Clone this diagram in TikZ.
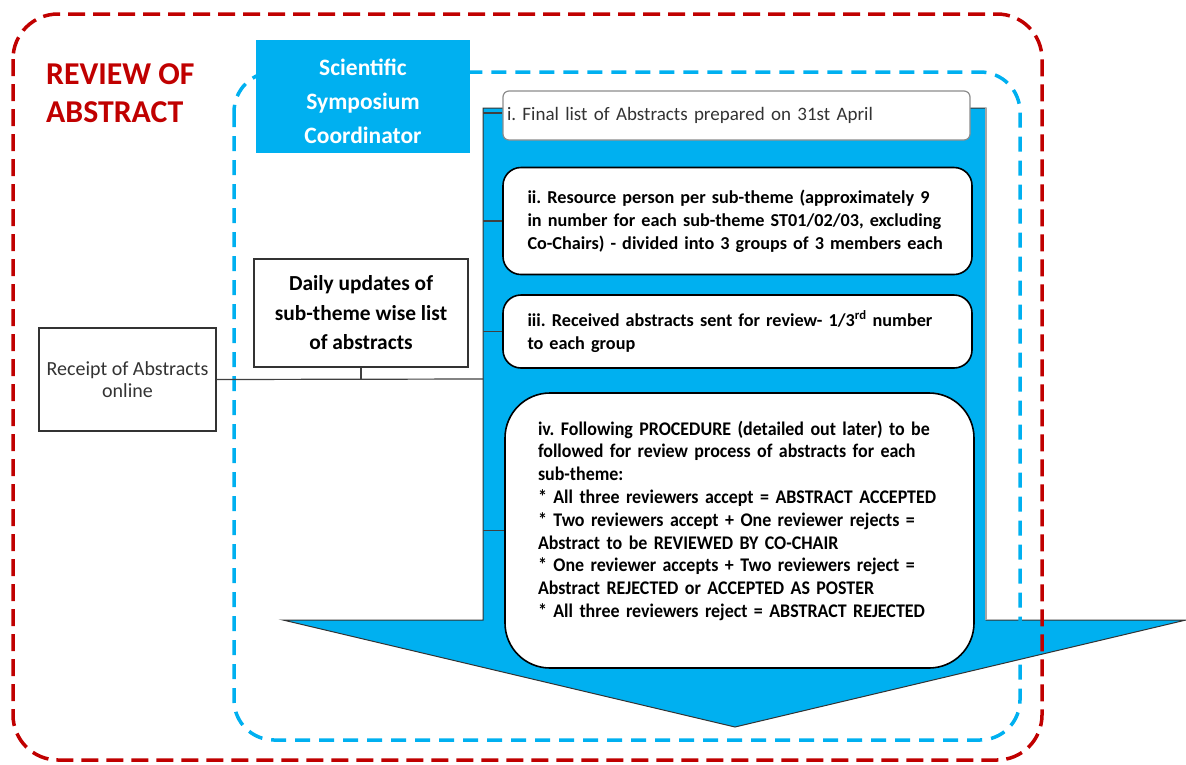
\documentclass[tikz,border=0pt]{standalone}
\usepackage{fontspec}
\setmainfont{Carlito}
\newfontfamily\procfont[FakeStretch=0.93]{Carlito}
\usepackage{tikz}
\usetikzlibrary{positioning}

\definecolor{symblue}{HTML}{00B0F0}
\definecolor{revred}{HTML}{C00000}

\frenchspacing
\hyphenpenalty=10000

\begin{document}
\begin{tikzpicture}[x=1pt, y=-1pt,
  listbox/.style={draw=black, line width=1.6pt, fill=white, align=left,
    inner ysep=0pt, font=\bfseries\fontsize{18.2}{23}\selectfont},
  plainbox/.style={draw=black!80, line width=1.2pt, fill=white, align=center},
  link/.style={draw=black!75, line width=1.2pt}]

  \newcommand\XA{483}
  \newcommand\XB{986}
  \newcommand\YT{108}
  \newcommand\YH{620}

  \useasboundingbox (0,0) rectangle (1186,764);

  % big arrow behind the list
  \draw[fill=symblue, draw=black!80, line width=1pt] (\XA,\YT) -- (\XB,\YT)
  -- (\XB,\YH) -- (1186,\YH) -- (735,727) -- (283,\YH) -- (\XA,\YH) -- cycle;
  \draw[black!35, line width=1.2pt] (\XB,\YT) -- (\XB,\YH);
  \coordinate (shaft) at (\XA,\YT);
  \coordinate (inlet) at (\XA,379);

  % outer frames
  \draw[revred, line width=3.5pt, dash pattern=on 17pt off 8pt, rounded corners=45pt]
  (13,14) rectangle (1042,760);
  \draw[symblue, line width=3.5pt, dash pattern=on 15pt off 9pt, rounded corners=40pt]
  (234,72) rectangle (1020,740);

  \fill[symblue] (256,40) rectangle (470,153);
  \node[text=white, font=\bfseries\fontsize{23.5}{34}\selectfont, align=center]
  (coord) at (363,101.5) {Scientific\\Symposium\\Coordinator};

  \node[anchor=north west, inner sep=0pt, text=revred, align=left,
  font=\bfseries\fontsize{31.8}{38}\selectfont] (title) at (46,63) {REVIEW OF\\ABSTRACT};

  \node[plainbox, minimum width=177pt, minimum height=103pt, text=black!80,
  font=\fontsize{20}{22}\selectfont] (receipt) at (127.5,379.5)
  {Receipt of Abstracts\\online};
  \node[plainbox, minimum width=214pt, minimum height=108pt,
  font=\bfseries\fontsize{21.4}{29.5}\selectfont] (daily) at (361,313)
  {Daily updates of\\sub-theme wise list\\of abstracts};

  \node[listbox, draw=black!45, line width=1.2pt, rounded corners=6pt,
  minimum height=49pt, text width=459pt, inner xsep=4pt, text=black!80,
  font=\fontsize{19}{22}\selectfont] (final) at (736.5,115.5)
  {i. Final list of Abstracts prepared on 31st April};
  \node[listbox, rounded corners=18pt, minimum height=107pt, text width=420pt,
  inner xsep=24.5pt] (persons) at (737.5,221)
  {ii. Resource person per sub-theme (approximately 9\\
    in number for each sub-theme ST01/02/03, excluding\\
    Co-Chairs) - divided into 3 groups of 3 members each};
  \node[listbox, rounded corners=18pt, minimum height=73pt, text width=420pt,
  inner xsep=24.5pt] (sent) at (737.5,331.5)
  {iii. Received abstracts sent for review- 1/3\textsuperscript{rd} number\\
    to each group};
  \node[listbox, rounded corners=45pt, minimum height=275pt, text width=403pt,
  inner xsep=33pt, font=\procfont\bfseries\fontsize{19.3}{22.8}\selectfont]
  (procedure) at (739.5,530.5)
  {iv. Following PROCEDURE (detailed out later) to be\\
    followed for review process of abstracts for each\\
    sub-theme:\\
    {}* All three reviewers accept = ABSTRACT ACCEPTED\\
    {}* Two reviewers accept + One reviewer rejects =\\
    Abstract to be REVIEWED BY CO-CHAIR\\
    {}* One reviewer accepts + Two reviewers reject =\\
    Abstract REJECTED or ACCEPTED AS POSTER\\
    {}* All three reviewers reject = ABSTRACT REJECTED\\
    \mbox{}};

  % connectors
  \draw[link] (receipt.east) -- (inlet);
  \draw[link] (daily.south) -- (daily.south |- inlet);
  \draw[link] (shaft |- 0,113) -- (final.west |- 0,113);
  \draw[link] (shaft |- persons.west) -- (persons.west);
  \draw[link] (shaft |- sent.west) -- (sent.west);
  \draw[link] (shaft |- procedure.west) -- (procedure.west);

\end{tikzpicture}
\end{document}
